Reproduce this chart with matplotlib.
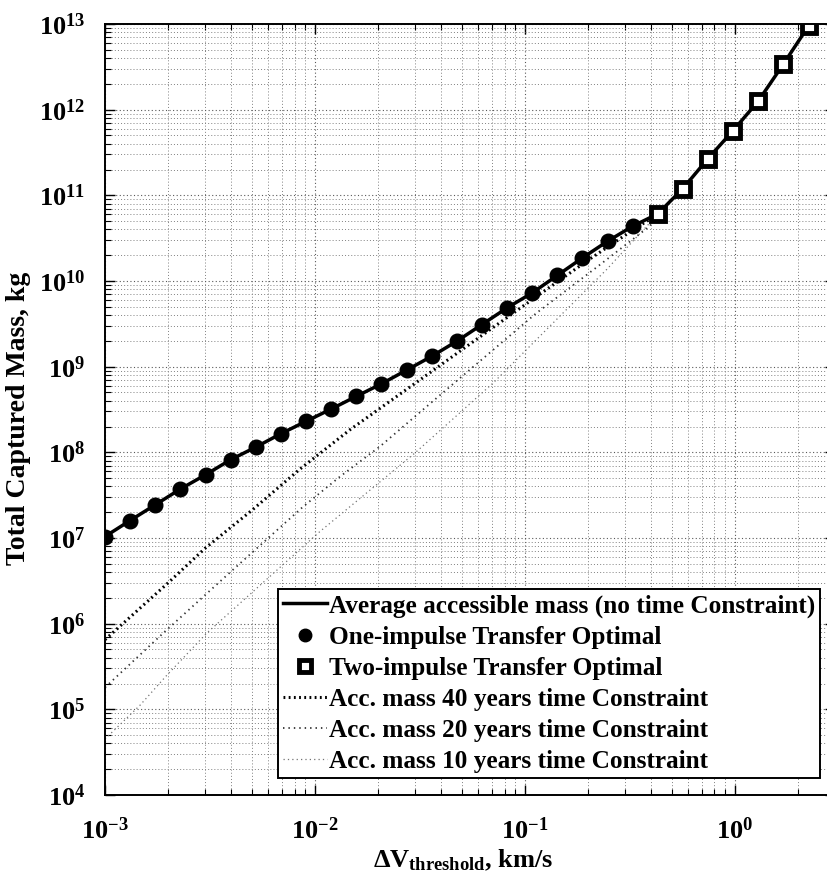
import matplotlib
matplotlib.use("Agg")
import matplotlib.pyplot as plt
from matplotlib.lines import Line2D
from matplotlib.ticker import FuncFormatter, LogLocator, NullFormatter

plt.rcParams["font.family"] = ["Liberation Serif", "DejaVu Serif"]
plt.rcParams["font.weight"] = "bold"
plt.rcParams["mathtext.fontset"] = "custom"
plt.rcParams["mathtext.rm"] = "Liberation Serif"
plt.rcParams["mathtext.bf"] = "Liberation Serif:bold"
plt.rcParams["mathtext.it"] = "Liberation Serif:italic"

# Delta-V threshold (km/s) and average accessible mass (kg)
dv_one = [1.000e-3, 1.317e-3, 1.735e-3, 2.286e-3, 3.011e-3, 3.966e-3,
          5.224e-3, 6.882e-3, 9.066e-3, 1.194e-2, 1.573e-2, 2.072e-2,
          2.730e-2, 3.596e-2, 4.737e-2, 6.240e-2, 8.220e-2, 0.1083,
          0.1426, 0.1879, 0.2475, 0.3260]
mass_one = [1.04e7, 1.60e7, 2.44e7, 3.73e7, 5.47e7, 8.20e7,
            1.15e8, 1.65e8, 2.30e8, 3.20e8, 4.50e8, 6.30e8,
            9.10e8, 1.32e9, 1.98e9, 3.10e9, 4.85e9, 7.26e9,
            1.16e10, 1.86e10, 2.91e10, 4.36e10]
dv_two = [0.4295, 0.5657, 0.7452, 0.9817, 1.293, 1.703, 2.244]
mass_two = [6.08e10, 1.20e11, 2.69e11, 5.70e11, 1.26e12, 3.40e12, 9.50e12]

# time-constrained accessible mass
dv_40 = [1e-3, 2e-3, 3e-3, 5e-3, 8.5e-3, 1.47e-2, 3.16e-2, 6e-2, 0.1137, 0.2, 0.33, 0.43]
mass_40 = [6.5e5, 3.0e6, 7.6e6, 2.1e7, 6.4e7, 1.84e8, 7.0e8, 2.16e9, 6.6e9, 1.75e10, 4.0e10, 6.0e10]
dv_20 = [1e-3, 1.93e-3, 4e-3, 8.8e-3, 1.315e-2, 2.04e-2, 4e-2, 0.1137, 0.22, 0.393, 0.43]
mass_20 = [1.8e5, 8.1e5, 4.1e6, 2.33e7, 5.2e7, 1.17e8, 4.8e8, 4.24e9, 1.45e10, 4.36e10, 6.0e10]
dv_10 = [1e-3, 1.47e-3, 1.97e-3, 3.06e-3, 1.056e-2, 2.99e-2, 7.06e-2, 0.15, 0.245, 0.33, 0.43]
mass_10 = [4.5e4, 1.12e5, 2.5e5, 7.8e5, 1.19e7, 9.8e7, 6.45e8, 4.1e9, 1.36e10, 3.0e10, 6.0e10]

labels = ["Average accessible mass (no time Constraint)",
          "One-impulse Transfer Optimal",
          "Two-impulse Transfer Optimal",
          "Acc. mass 40 years time Constraint",
          "Acc. mass 20 years time Constraint",
          "Acc. mass 10 years time Constraint"]

W, H = 828, 884
fig = plt.figure(figsize=(W / 100, H / 100), dpi=100)
left, right, top, bottom = 105, 835, 24, 795
ax = fig.add_axes([left / W, 1 - bottom / H, (right - left) / W, (bottom - top) / H])
ax.set_xscale("log")
ax.set_yscale("log")
ax.set_xlim(1e-3, 3)
ax.set_ylim(1e4, 1e13)

style_40 = dict(color="black", lw=2.2, ls=(0, (0.6, 1.1)))
style_20 = dict(color="0.2", lw=1.3, ls=(0, (0.8, 2.2)))
style_10 = dict(color="0.45", lw=0.9, ls=(0, (1, 2.5)))
ax.plot(dv_10, mass_10, **style_10)
ax.plot(dv_20, mass_20, **style_20)
ax.plot(dv_40, mass_40, **style_40)

dv_all = dv_one + dv_two
mass_all = mass_one + mass_two
ax.plot(dv_all, mass_all, color="black", lw=2.5, solid_joinstyle="round")
ax.plot(dv_one, mass_one, "o", color="black", ms=10.5)
ax.plot(dv_two, mass_two, "s", mfc="white", mec="black", mew=3.5, ms=9.5)

# MATLAB-like dotted grid
ax.grid(True, which="major", ls=(0, (1, 2.2)), color="0.35", lw=0.8)
ax.grid(True, which="minor", ls=(0, (1, 2.2)), color="0.5", lw=0.7)
ax.set_axisbelow(True)

ax.xaxis.set_major_locator(LogLocator(base=10, numticks=20))
ax.yaxis.set_major_locator(LogLocator(base=10, numticks=20))
ax.xaxis.set_minor_locator(LogLocator(base=10, subs=range(2, 10), numticks=40))
ax.yaxis.set_minor_locator(LogLocator(base=10, subs=range(2, 10), numticks=40))
ax.xaxis.set_minor_formatter(NullFormatter())
ax.yaxis.set_minor_formatter(NullFormatter())

def pow_fmt(v, pos):
    import math
    e = int(round(math.log10(v)))
    return r"$\mathbf{10^{%d}}$" % e

ax.xaxis.set_major_formatter(FuncFormatter(pow_fmt))
ax.yaxis.set_major_formatter(FuncFormatter(pow_fmt))
ax.tick_params(which="both", direction="in", top=True, right=True, labelsize=19)
ax.tick_params(which="major", length=7, width=1)
ax.tick_params(which="minor", length=4, width=0.8)
ax.tick_params(axis="x", pad=16)
ax.tick_params(axis="y", pad=14)
for s in ax.spines.values():
    s.set_linewidth(1.4)

ax.set_ylabel("Total Captured Mass, kg", fontsize=20, fontweight="bold")
ax.yaxis.set_label_coords(-0.102, 0.488)
ax.set_xlabel(r"$\mathrm{\Delta V_{threshold}}$, km/s", fontsize=19, fontweight="bold")
ax.xaxis.set_label_coords(0.49, -0.068)

handles = [
    Line2D([], [], color="black", lw=2.5),
    Line2D([], [], ls="none", marker="o", color="black", ms=9),
    Line2D([], [], ls="none", marker="s", mfc="white", mec="black", mew=3.5, ms=8.5),
    Line2D([], [], **style_40),
    Line2D([], [], **style_20),
    Line2D([], [], **style_10),
]
leg = ax.legend(handles, labels, loc="lower right", bbox_to_anchor=((820 - left) / (right - left), (bottom - 778) / (bottom - top)),
                borderaxespad=0, fancybox=False, framealpha=1, edgecolor="black",
                prop={"family": "Liberation Serif", "weight": "bold", "size": 18.2},
                handlelength=1.75, handletextpad=0.05, labelspacing=0.32, borderpad=0.2)
leg.get_frame().set_linewidth(1.4)

fig.savefig("out.png", dpi=100)
